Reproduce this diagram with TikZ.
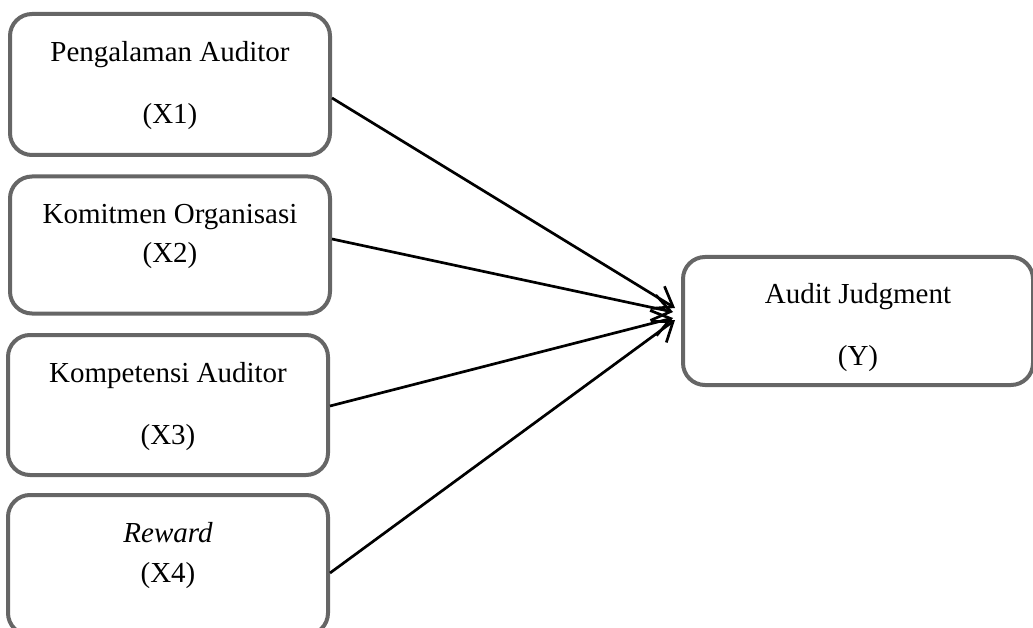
\documentclass[tikz,border=0pt]{standalone}
\usepackage{fontspec}
\setmainfont{Liberation Serif}
\usetikzlibrary{arrows.meta}
\definecolor{boxgray}{HTML}{666666}
\begin{document}
\begin{tikzpicture}[x=1pt,y=-1pt,
  varbox/.style={draw=boxgray,line width=4pt,rounded corners=22pt,minimum width=#1,inner sep=0pt},
  lbl/.style={anchor=base,inner sep=0pt,font=\fontsize{29}{35}\selectfont},
  conn/.style={line width=2.7pt,-{Straight Barb[length=18pt,width=26pt]}}]
\useasboundingbox (0,0) rectangle (1033,628);
\node[varbox=320pt,minimum height=141pt] (b1) at (170,84.5) {};
\node[varbox=320pt,minimum height=137pt] (b2) at (170,245) {};
\node[varbox=320pt,minimum height=140pt] (b3) at (168,405) {};
\node[varbox=320pt,minimum height=140pt] (b4) at (168,565) {};
\node[varbox=350pt,minimum height=128pt] (y) at (858,321) {};
\node[lbl] (t1a) at (170,62) {Pengalaman Auditor};
\node[lbl] (t1b) at (170,124) {(X1)};
\node[lbl] (t2a) at (170,224) {Komitmen Organisasi};
\node[lbl] (t2b) at (170,263) {(X2)};
\node[lbl] (t3a) at (168,382) {Kompetensi Auditor};
\node[lbl] (t3b) at (168,444) {(X3)};
\node[lbl] (t4a) at (168,542) {\itshape Reward};
\node[lbl] (t4b) at (168,582) {(X4)};
\node[lbl] (tya) at (858,304) {Audit Judgment};
\node[lbl] (tyb) at (858,365) {(Y)};
\coordinate (e1) at (675,308);
\coordinate (e2) at (673,312);
\coordinate (e3) at (673,318);
\coordinate (e4) at (675,320);
\draw[conn] ([yshift=-13.5pt]b1.east) -- (e1);
\draw[conn] ([yshift=6pt]b2.east) -- (e2);
\draw[conn] ([yshift=-1pt]b3.east) -- (e3);
\draw[conn] ([yshift=-8pt]b4.east) -- (e4);
\end{tikzpicture}
\end{document}
